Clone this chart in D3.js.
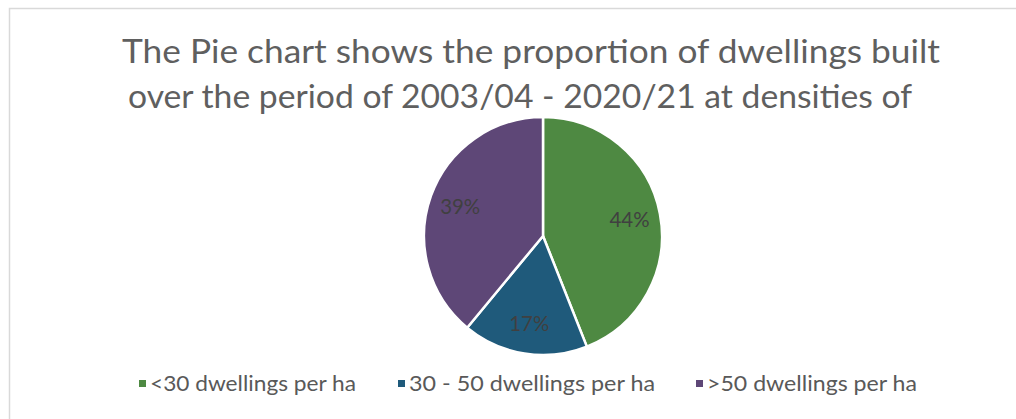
<!DOCTYPE html>
<html><head><meta charset="utf-8">
<script src="https://cdn.jsdelivr.net/npm/d3@7"></script>
<style>html,body{margin:0;padding:0;background:#fff;overflow:hidden}</style>
</head><body>
<svg id="chart" width="1016" height="419"></svg>
<script>
const categories = ["<30 dwellings per ha", "30 - 50 dwellings per ha", ">50 dwellings per ha"];
const values = [44, 17, 39];
const colors = ["#4e8942", "#1f5a7b", "#5e4777"];
const titleLines = ["The Pie chart shows the proportion of dwellings built", "over the period of 2003/04 - 2020/21 at densities of"];

const svg = d3.select("#chart");
const font = "Lato, 'Open Sans', sans-serif";

// chart frame (left and top edges visible)
svg.append("path").attr("d","M9.5,419 L9.5,8.5 L1016,8.5").attr("fill","none").attr("stroke","#d9d9d9").attr("stroke-width",1.5);

// title
const tg = svg.append("g");
const titleLayout = [{x:122, y:63, w:818}, {x:128, y:108, w:784}];
titleLines.forEach((t,i)=>{
  tg.append("text").attr("x",titleLayout[i].x).attr("y",titleLayout[i].y)
    .attr("font-family",font).attr("font-size",32).attr("fill","#5f5f5f")
    .attr("textLength",titleLayout[i].w).attr("lengthAdjust","spacingAndGlyphs").text(t);
});

// pie
const cx = 543, cy = 236, R = 119;
const pie = d3.pie().sort(null).value(d=>d)(values);
const arc = d3.arc().innerRadius(0).outerRadius(R);
const labelArc = d3.arc().innerRadius(R*0.74).outerRadius(R*0.74);
const g = svg.append("g").attr("transform",`translate(${cx},${cy})`);
g.selectAll("path").data(pie).join("path")
  .attr("d",arc).attr("fill",(d,i)=>colors[i]).attr("stroke","#fff").attr("stroke-width",2.5);
g.selectAll("text").data(pie).join("text")
  .attr("transform",d=>`translate(${labelArc.centroid(d)})`)
  .attr("text-anchor","middle").attr("dy","0.35em")
  .attr("font-family",font).attr("font-size",22).attr("fill","#404040")
  .attr("textLength",40).attr("lengthAdjust","spacingAndGlyphs")
  .text(d=>d.value+"%");

// legend
const lg = svg.append("g");
const legendX = [139, 398, 696];
const legendW = [206, 246, 210];
categories.forEach((c,i)=>{
  lg.append("rect").attr("x",legendX[i]).attr("y",380).attr("width",7).attr("height",7).attr("fill",colors[i]);
  lg.append("text").attr("x",legendX[i]+11).attr("y",391).attr("font-family",font).attr("font-size",22)
    .attr("fill","#595959").attr("textLength",legendW[i]).attr("lengthAdjust","spacingAndGlyphs").text(c);
});
</script>
</body></html>
